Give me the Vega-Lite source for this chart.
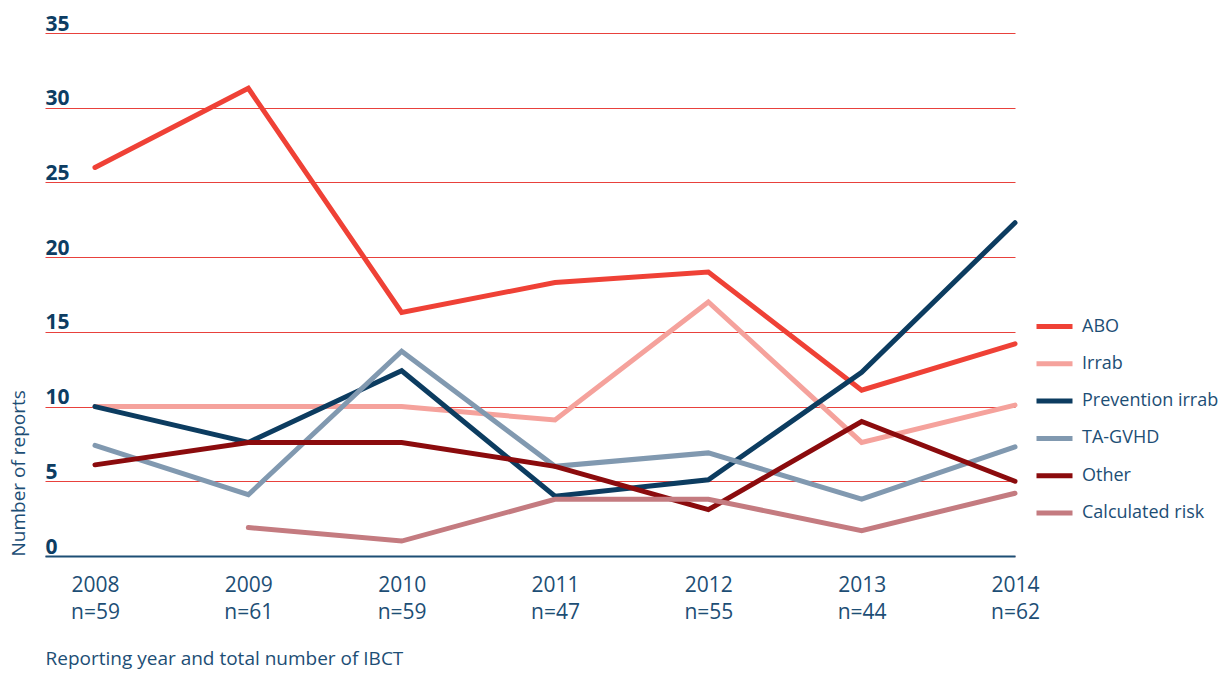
{
  "$schema": "https://vega.github.io/schema/vega-lite/v6.json",
  "width": 970,
  "height": 523,
  "autosize": {"type": "none"},
  "padding": {"left": 45, "top": 33, "right": 210, "bottom": 117},
  "background": "white",
  "config": {"view": {"stroke": null}, "font": "Open Sans"},
  "data": {
    "values": [
      {"year": 2008, "series": "ABO", "value": 26.0},
      {"year": 2009, "series": "ABO", "value": 31.3},
      {"year": 2010, "series": "ABO", "value": 16.3},
      {"year": 2011, "series": "ABO", "value": 18.3},
      {"year": 2012, "series": "ABO", "value": 19.0},
      {"year": 2013, "series": "ABO", "value": 11.1},
      {"year": 2014, "series": "ABO", "value": 14.2},
      {"year": 2008, "series": "Irrab", "value": 10.0},
      {"year": 2009, "series": "Irrab", "value": 10.0},
      {"year": 2010, "series": "Irrab", "value": 10.0},
      {"year": 2011, "series": "Irrab", "value": 9.1},
      {"year": 2012, "series": "Irrab", "value": 17.0},
      {"year": 2013, "series": "Irrab", "value": 7.6},
      {"year": 2014, "series": "Irrab", "value": 10.1},
      {"year": 2008, "series": "Prevention irrab", "value": 10.0},
      {"year": 2009, "series": "Prevention irrab", "value": 7.6},
      {"year": 2010, "series": "Prevention irrab", "value": 12.4},
      {"year": 2011, "series": "Prevention irrab", "value": 4.0},
      {"year": 2012, "series": "Prevention irrab", "value": 5.1},
      {"year": 2013, "series": "Prevention irrab", "value": 12.3},
      {"year": 2014, "series": "Prevention irrab", "value": 22.3},
      {"year": 2008, "series": "TA-GVHD", "value": 7.4},
      {"year": 2009, "series": "TA-GVHD", "value": 4.1},
      {"year": 2010, "series": "TA-GVHD", "value": 13.7},
      {"year": 2011, "series": "TA-GVHD", "value": 6.0},
      {"year": 2012, "series": "TA-GVHD", "value": 6.9},
      {"year": 2013, "series": "TA-GVHD", "value": 3.8},
      {"year": 2014, "series": "TA-GVHD", "value": 7.3},
      {"year": 2008, "series": "Other", "value": 6.1},
      {"year": 2009, "series": "Other", "value": 7.6},
      {"year": 2010, "series": "Other", "value": 7.6},
      {"year": 2011, "series": "Other", "value": 6.0},
      {"year": 2012, "series": "Other", "value": 3.1},
      {"year": 2013, "series": "Other", "value": 9.0},
      {"year": 2014, "series": "Other", "value": 5.0},
      {"year": 2009, "series": "Calculated risk", "value": 1.9},
      {"year": 2010, "series": "Calculated risk", "value": 1.0},
      {"year": 2011, "series": "Calculated risk", "value": 3.8},
      {"year": 2012, "series": "Calculated risk", "value": 3.8},
      {"year": 2013, "series": "Calculated risk", "value": 1.7},
      {"year": 2014, "series": "Calculated risk", "value": 4.2}
    ]
  },
  "mark": {"type": "line", "strokeWidth": 5, "strokeCap": "round"},
  "encoding": {
    "x": {
      "field": "year",
      "type": "quantitative",
      "scale": {"domain": [2007.674, 2014], "nice": false, "zero": false},
      "axis": {
        "values": [2008, 2009, 2010, 2011, 2012, 2013, 2014],
        "labelExpr": "['' + datum.value, ['n=59','n=61','n=59','n=47','n=55','n=44','n=62'][datum.value - 2008]]",
        "grid": false,
        "ticks": false,
        "tickSize": 0,
        "domainColor": "#1d4e75",
        "domainWidth": 2,
        "labelFlush": false,
        "labelBound": false,
        "labelOverlap": false,
        "labelFont": "Open Sans",
        "labelFontSize": 21,
        "labelColor": "#1d4e75",
        "labelLineHeight": 27,
        "labelBaseline": "top",
        "labelPadding": 18,
        "title": "Reporting year and total number of IBCT",
        "titleFont": "Open Sans",
        "titleFontSize": 19,
        "titleFontWeight": "normal",
        "titleColor": "#1d4e75",
        "titleAnchor": "start",
        "titleAlign": "left",
        "titleBaseline": "alphabetic",
        "titleX": 0,
        "titleY": 108
      }
    },
    "y": {
      "field": "value",
      "type": "quantitative",
      "scale": {"domain": [0, 35], "nice": false},
      "axis": {
        "values": [0, 5, 10, 15, 20, 25, 30, 35],
        "grid": true,
        "gridColor": "#e8413c",
        "gridWidth": 1,
        "gridOpacity": 1,
        "domain": false,
        "ticks": false,
        "tickSize": 0,
        "labelAlign": "left",
        "labelPadding": 0,
        "labelBaseline": "alphabetic",
        "labelOffset": -3,
        "labelFont": "Open Sans",
        "labelFontSize": 21,
        "labelFontWeight": "bold",
        "labelColor": "#0d3d63",
        "labelBound": false,
        "labelFlush": false,
        "title": "Number of reports",
        "titleFont": "Open Sans",
        "titleFontSize": 19,
        "titleFontWeight": "normal",
        "titleColor": "#1d4e75",
        "titleAngle": -90,
        "titleAnchor": "start",
        "titleAlign": "left",
        "titleBaseline": "middle",
        "titleX": -27,
        "titleY": 523
      }
    },
    "color": {
      "field": "series",
      "type": "nominal",
      "scale": {
        "domain": ["ABO", "Irrab", "Prevention irrab", "TA-GVHD", "Other", "Calculated risk"],
        "range": ["#ef4136", "#f5a29c", "#0c3c60", "#8199b0", "#8b0b0d", "#c47b80"]
      },
      "legend": {
        "title": null,
        "orient": "none",
        "legendX": 989,
        "legendY": 273,
        "symbolType": "stroke",
        "symbolSize": 1296,
        "symbolStrokeWidth": 5,
        "rowPadding": 6.3,
        "labelOffset": 7,
        "labelFont": "Open Sans",
        "labelFontSize": 18,
        "labelColor": "#1d4e75",
        "labelLimit": 300
      }
    },
    "order": {"field": "year", "type": "quantitative"}
  }
}
